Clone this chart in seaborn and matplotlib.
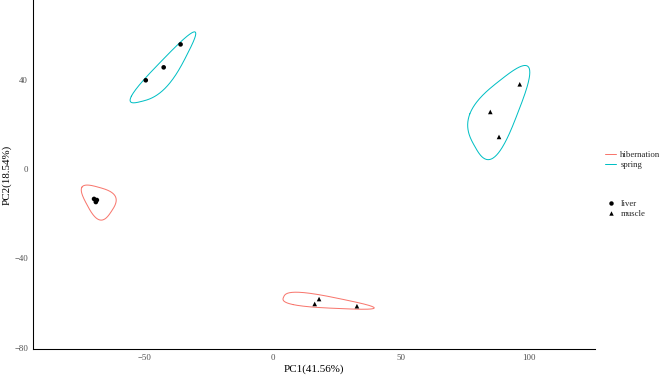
import numpy as np
import pandas as pd
import matplotlib
matplotlib.use("Agg")
import matplotlib.pyplot as plt
from matplotlib.lines import Line2D
import seaborn as sns

# PCA scores
pc1 = [-49.7, -42.7, -36.1, -69.9, -68.8, -69.2, 18.0, 16.3, 32.8, 96.4, 84.9, 88.3]
pc2 = [39.9, 45.7, 56.0, -13.3, -13.8, -14.7, -58.2, -60.4, -61.4, 38.1, 25.7, 14.5]
season = ["spring"] * 3 + ["hibernation"] * 3 + ["hibernation"] * 3 + ["spring"] * 3
tissue = ["liver"] * 6 + ["muscle"] * 6

season_order = ["hibernation", "spring"]
season_colors = ["#F8766D", "#00BFC4"]
tissue_order = ["liver", "muscle"]
tissue_markers = ["o", "^"]

x_ticks = [-50, 0, 50, 100]
y_ticks = [-80, -40, 0, 40]
x_label = "PC1(41.56%)"
y_label = "PC2(18.54%)"

df = pd.DataFrame({"PC1": pc1, "PC2": pc2, "season": season, "tissue": tissue})

PX = 72 / 100  # one reference pixel in points at dpi 100


def convex_hull(pts):
    pts = sorted(map(tuple, pts))
    if len(pts) < 3:
        return np.array(pts)

    def cross(o, a, b):
        return (a[0] - o[0]) * (b[1] - o[1]) - (a[1] - o[1]) * (b[0] - o[0])

    lower, upper = [], []
    for p in pts:
        while len(lower) >= 2 and cross(lower[-2], lower[-1], p) <= 0:
            lower.pop()
        lower.append(p)
    for p in reversed(pts):
        while len(upper) >= 2 and cross(upper[-2], upper[-1], p) <= 0:
            upper.pop()
        upper.append(p)
    return np.array(lower[:-1] + upper[:-1])


def f_blend(num, den):
    p = 2 * den * den
    u = num / den
    return u ** 3 * (10 - p + (2 * p - 15) * u + (6 - p) * u * u)


def xspline_closed(ctrl, s=0.5, steps=80):
    # closed X-spline (Blanc & Schlick), positive shape = approximating
    n = len(ctrl)
    out = []
    for k in range(n):
        p0, p1, p2, p3 = ctrl[(k - 1) % n], ctrl[k], ctrl[(k + 1) % n], ctrl[(k + 2) % n]
        for t in np.linspace(0, 1, steps, endpoint=False):
            a0 = f_blend(t - s, -1 - s) if t < s else 0.0
            a1 = f_blend(t - 1 - s, -1 - s)
            a2 = f_blend(t + s, 1 + s)
            a3 = f_blend(t - 1 + s, 1 + s) if t > 1 - s else 0.0
            out.append((a0 * p0 + a1 * p1 + a2 * p2 + a3 * p3) / (a0 + a1 + a2 + a3))
    out.append(out[0])
    return np.array(out)


def encircle(pts, scale=1.6, push=26.0):
    hull = convex_hull(pts)
    m = pts.mean(axis=0)
    rel = hull - m
    r = np.linalg.norm(rel, axis=1, keepdims=True)
    ctrl = m + rel * scale + rel / np.maximum(r, 1e-9) * push
    return xspline_closed(ctrl)


sns.set_style("white")
plt.rcParams["font.family"] = ["Liberation Serif", "DejaVu Serif"]

fig = plt.figure(figsize=(6.69, 3.77), dpi=100)
ax = fig.add_axes([33 / 669, 28 / 377, 562 / 669, 349 / 377])
ax.set_xlim(-93.75, 125.8)
ax.set_ylim(-80.6, 75.9)

# smooth enclosures around each season/tissue group
for (s, t), g in df.groupby(["season", "tissue"]):
    col = season_colors[season_order.index(s)]
    px = ax.transData.transform(g[["PC1", "PC2"]].to_numpy())
    outline = ax.transData.inverted().transform(encircle(px))
    ax.plot(outline[:, 0], outline[:, 1], color=col, lw=1.0 * PX, zorder=1)

sns.scatterplot(data=df, x="PC1", y="PC2", style="tissue", style_order=tissue_order,
                markers=dict(zip(tissue_order, tissue_markers)), color="black",
                s=11, linewidth=0, legend=False, ax=ax, zorder=2)

sns.despine(ax=ax)
for side in ["left", "bottom"]:
    ax.spines[side].set_color("black")
    ax.spines[side].set_linewidth(1.07 * PX)
ax.set_xticks(x_ticks)
ax.set_yticks(y_ticks)
ax.tick_params(axis="both", direction="out", length=2.75 * PX, width=1.07 * PX,
               color="#333333", labelsize=8.8 * PX, labelcolor="#4D4D4D", pad=2.2 * PX)
ax.set_xlabel(x_label, fontsize=11 * PX, color="black", labelpad=2.75 * PX)
ax.set_ylabel(y_label, fontsize=11 * PX, color="black", labelpad=2.75 * PX)

season_handles = [Line2D([], [], color=c, lw=1.0 * PX) for c in season_colors]
leg1 = fig.legend(season_handles, season_order, loc="center left",
                  bbox_to_anchor=(601 / 669, 1 - 160 / 377), frameon=False,
                  fontsize=8.8 * PX, handlelength=1.2, handletextpad=0.5,
                  labelspacing=0.15, borderpad=0)
tissue_handles = [Line2D([], [], marker=m, ls="", color="black", ms=3.2, mew=0)
                  for m in tissue_markers]
leg2 = fig.legend(tissue_handles, tissue_order, loc="center left",
                  bbox_to_anchor=(601 / 669, 1 - 209 / 377), frameon=False,
                  fontsize=8.8 * PX, handlelength=1.2, handletextpad=0.5,
                  labelspacing=0.15, borderpad=0)

fig.savefig("out.png", dpi=100)
